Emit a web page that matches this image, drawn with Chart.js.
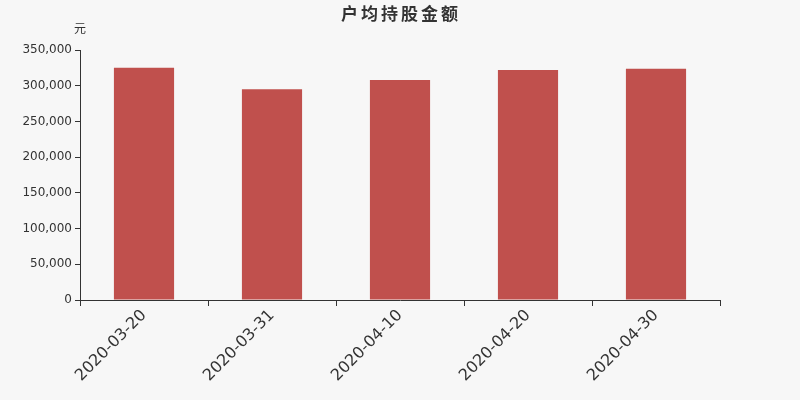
<!DOCTYPE html>
<html>
<head>
<meta charset="utf-8">
<script src="https://cdn.jsdelivr.net/npm/chart.js@4/dist/chart.umd.min.js"></script>
<style>
  html, body { margin: 0; padding: 0; background: #f7f7f7; }
  #wrap { width: 800px; height: 400px; }
</style>
</head>
<body>
<div id="wrap"><canvas id="myChart"></canvas></div>
<script>
// Data
const dates = ['2020-03-20', '2020-03-31', '2020-04-10', '2020-04-20', '2020-04-30'];
const amounts = [325200, 295000, 308000, 322000, 323800];
const yTicks = [0, 50000, 100000, 150000, 200000, 250000, 300000, 350000];

const chartTitle = '户均持股金额';
const unitLabel = '元';

// background + title + unit text
const decorPlugin = {
    id: 'decor',
    beforeDraw(chart) {
        const c = chart.ctx;
        c.save();
        c.fillStyle = '#f7f7f7';
        c.fillRect(0, 0, chart.width, chart.height);
        c.restore();
    },
    afterDraw(chart) {
        const c = chart.ctx;
        c.save();
        c.fillStyle = '#333';
        c.textAlign = 'center';
        c.textBaseline = 'middle';
        c.font = 'bold 17px "Noto Sans CJK SC"';
        c.letterSpacing = '3px';
        c.fillText(chartTitle, 401, 14);
        c.letterSpacing = '0px';
        c.font = '12px "Noto Sans CJK SC"';
        c.fillText(unitLabel, chart.chartArea.left, 28);
        c.restore();
    }
};

const ctx = document.getElementById('myChart').getContext('2d');
const myChart = new Chart(ctx, {
    type: 'bar',
    data: {
        labels: dates,
        datasets: [{
            data: amounts,
            backgroundColor: '#c0504d',
            barPercentage: 0.94,
            categoryPercentage: 0.5
        }]
    },
    options: {
        responsive: true,
        maintainAspectRatio: false,
        animation: false,
        layout: {
            padding: { top: 50, right: 80, left: 0, bottom: 0 }
        },
        scales: {
            x: {
                offset: true,
                grid: {
                    display: true,
                    offset: true,
                    drawOnChartArea: false,
                    drawTicks: true,
                    tickLength: 6,
                    color: '#333'
                },
                border: { display: true, color: '#333', width: 1 },
                ticks: {
                    color: '#333',
                    font: { family: 'DejaVu Sans', size: 16 },
                    minRotation: 45,
                    maxRotation: 45,
                    padding: 0
                },
                afterFit: function(scale) {
                    scale.height = 100;
                }
            },
            y: {
                min: 0,
                max: 350000,
                afterBuildTicks: function(scale) {
                    scale.ticks = yTicks.map(v => ({ value: v }));
                },
                grid: {
                    display: true,
                    drawOnChartArea: false,
                    drawTicks: true,
                    tickLength: 5,
                    color: '#333'
                },
                border: { display: true, color: '#333', width: 1 },
                ticks: {
                    color: '#333',
                    font: { family: 'DejaVu Sans', size: 12 },
                    padding: 3,
                    callback: function(value) {
                        return value.toLocaleString('en-US');
                    }
                },
                afterFit: function(scale) {
                    scale.width = 80;
                }
            }
        },
        plugins: {
            legend: { display: false },
            title: { display: false },
            tooltip: { enabled: false }
        }
    },
    plugins: [decorPlugin]
});
</script>
</body>
</html>
